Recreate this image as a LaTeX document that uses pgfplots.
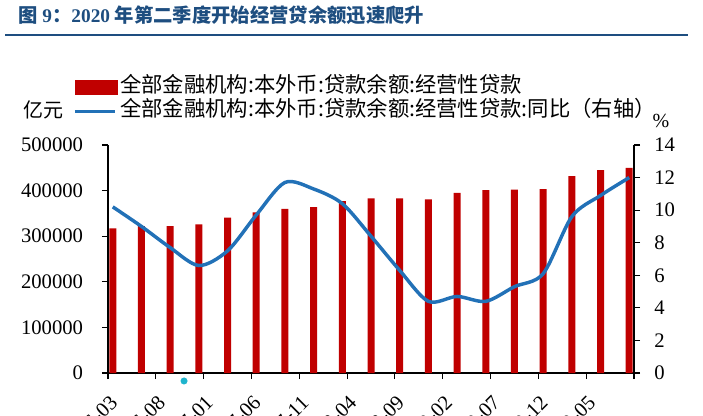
\documentclass[border=0pt]{standalone}
\usepackage{fontspec}
\setmainfont{Liberation Serif}
\newfontfamily\cjk{Noto Sans CJK SC}
\usepackage{pgfplots}
\pgfplotsset{compat=1.18}
\definecolor{barred}{RGB}{192,0,0}
\definecolor{lineblue}{RGB}{34,113,183}
\definecolor{titleblue}{RGB}{30,78,128}
\definecolor{dotcyan}{RGB}{30,180,205}

\pgfplotstableread{
x bal
0 317000
3 322000
6 322000
9 326000
12 341000
15 352000
18 360000
21 364000
24 377000
27 383000
30 383000
33 381000
36 395000
39 401000
42 402000
45 403000
48 432000
51 445000
54 450000
}\baldata

\pgfplotstableread{
x yoy
0 10.2
3 9.0
6 7.7
9 6.6
12 7.5
15 9.7
18 11.7
21 11.3
24 10.4
27 8.4
30 6.3
33 4.4
36 4.7
39 4.4
42 5.3
45 6.1
48 9.6
51 10.9
54 12.0
}\yoydata

\begin{document}
\begin{tikzpicture}
\pgfplotsset{
  base/.style={
    at={(81pt,31.5pt)}, anchor=south west, scale only axis,
    width=394.5pt, height=171pt,
    xmin=-0.5, xmax=54.5,
    scaled ticks=false,
    tick align=outside, major tick length=4.5pt,
    tick style={black, line width=0.8pt},
    axis line style={black, line width=0.8pt, -},
    tick label style={font=\fontsize{15.5}{16}\selectfont},
  }
}
\begin{axis}[base,
  axis x line*=bottom, axis y line*=left,
  ymin=0, ymax=500000,
  ytick={0,100000,200000,300000,400000,500000},
  yticklabels={0,100000,200000,300000,400000,500000},
  xtick={-0.5,4.5,9.5,14.5,19.5,24.5,29.5,34.5,39.5,44.5,49.5,54.5},
  xticklabels={2016-03,2016-08,2017-01,2017-06,2017-11,2018-04,2018-09,2019-02,2019-07,2019-12,2020-05,{}},
  xticklabel style={xshift=4.5pt, yshift=-15pt, rotate=45, anchor=east, inner sep=0pt},
  yticklabel style={anchor=east, inner sep=0pt, xshift=-14pt},
  ylabel={\cjk 亿元},
  every axis y label/.style={at={(axis description cs:-0.1217,1.1535)}, anchor=center, font=\fontsize{15}{16}\selectfont},
]
\addplot[ybar, bar width=5.25pt, fill=barred, draw=none] table[x=x, y=bal] {\baldata};
\end{axis}

\begin{axis}[base,
  axis x line=none, axis y line*=right,
  ymin=0, ymax=14,
  clip=false,
  ytick={0,2,4,6,8,10,12,14},
  yticklabels={0,2,4,6,8,10,12,14},
  yticklabel style={anchor=west, inner sep=0pt, xshift=10.5pt},
  ylabel={\%},
  every axis y label/.style={at={(axis description cs:1.0513,1.105)}, anchor=center, font=\fontsize{15}{16}\selectfont},
  legend cell align=left,
  legend style={at={(axis description cs:-0.0665,1.307)}, anchor=north west,
    draw=none, fill=none, inner sep=0pt, column sep=2.25pt, row sep=0pt,
    font=\fontsize{16}{18}\selectfont\cjk,
    nodes={inner sep=0pt, text height=13pt, text depth=5pt}},
]
\addlegendimage{legend image code/.code={\fill[barred] (0pt,-4.9pt) rectangle (31.5pt,4.9pt);}}
\addlegendentry{全部金融机构:本外币:贷款余额:经营性贷款}
\addplot[lineblue, line width=2.6pt, smooth, no marks,
  legend image code/.code={\draw[lineblue, line width=2.4pt] (0pt,0pt) -- (30pt,0pt);}]
  table[x=x, y=yoy] {\yoydata};
\addlegendentry{全部金融机构:本外币:贷款余额:经营性贷款:同比（右轴）}
\addplot[only marks, mark=*, mark size=2.4pt, color=dotcyan, forget plot]
  coordinates {(7.45,-0.49)};
\end{axis}

\begin{scope}[x=0.75pt,y=0.75pt]
\node[anchor=west, inner sep=0pt, text=titleblue, font=\fontsize{14.5}{16}\selectfont\bfseries] at (18,400) {{\cjk 图} 9{\cjk ：}2020 {\cjk 年第二季度开始经营贷余额迅速爬升}};
\draw[titleblue, line width=1.6pt] (5,380) -- (688,380);
\end{scope}

\pgfresetboundingbox
\useasboundingbox (0pt,0pt) rectangle (527.25pt,311.25pt);
\end{tikzpicture}
\end{document}
